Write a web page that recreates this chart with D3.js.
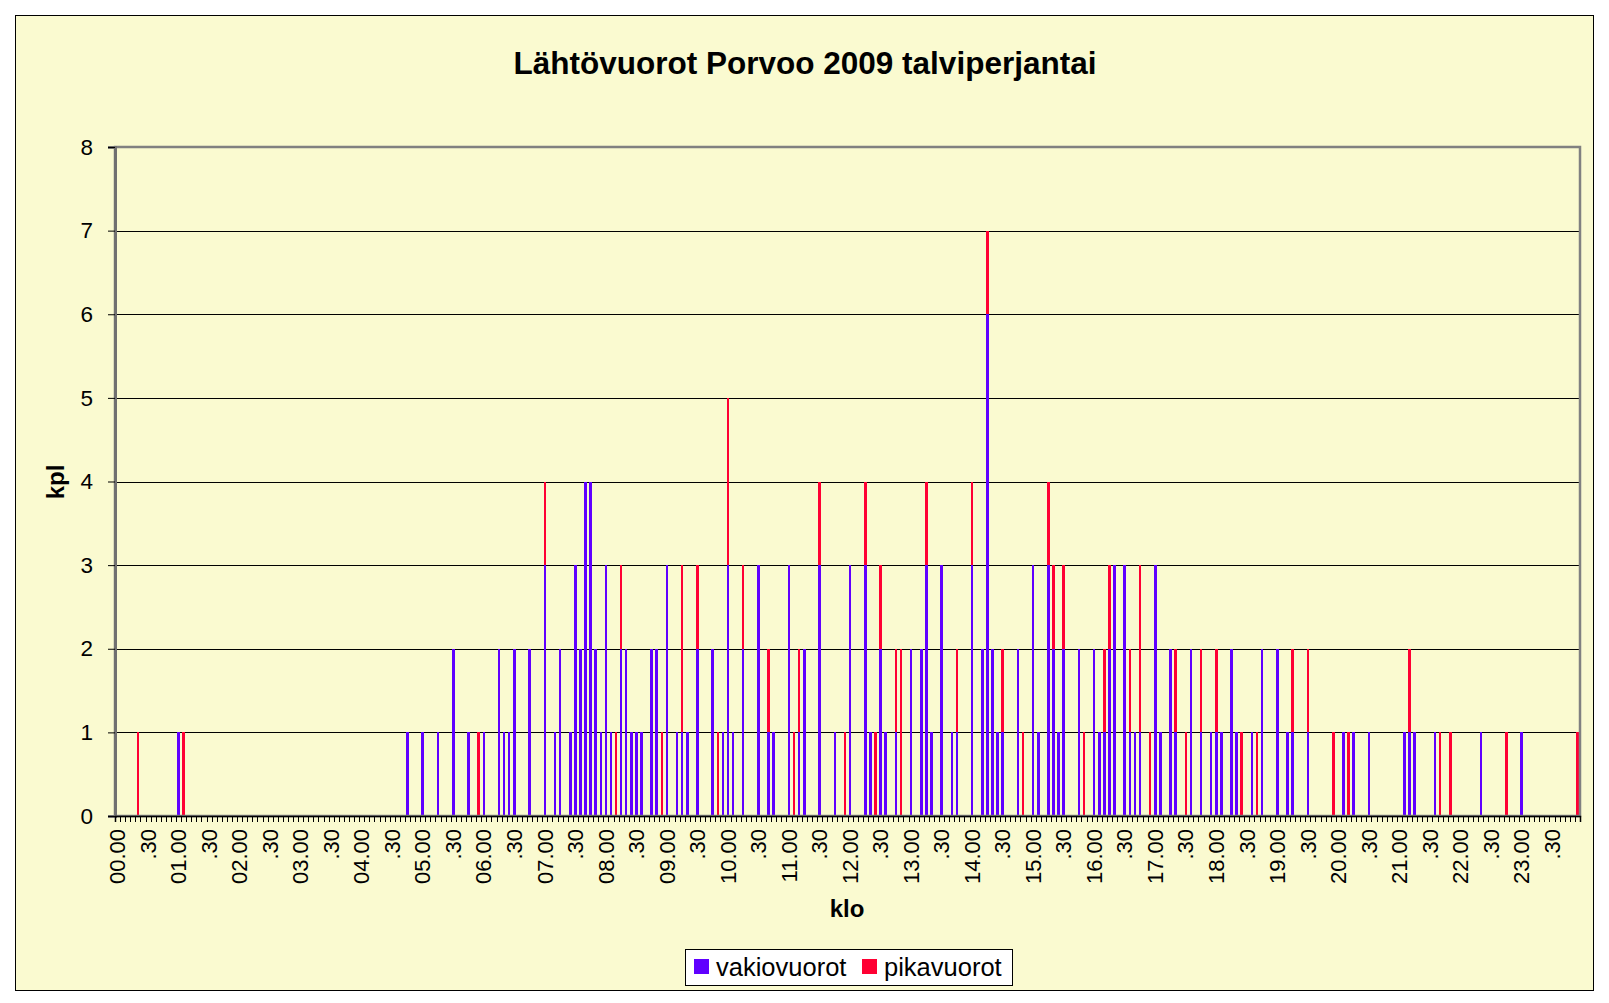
<!DOCTYPE html>
<html><head><meta charset="utf-8">
<script src="https://cdn.jsdelivr.net/npm/d3@7"></script>
<style>
body{margin:0;background:#fff}
svg{display:block}
text{font-family:"Liberation Sans",Arial,sans-serif}
</style>
</head><body>
<svg id="c" width="1609" height="1003"></svg>
<script>
// Departures per 5-minute slot, 12 slots per hour (00.00 ... 23.55)
const vakiovuorot = [
  0,0,0,0,0,0,0,0,0,0,0,0,   // 00
  1,0,0,0,0,0,0,0,0,0,0,0,   // 01
  0,0,0,0,0,0,0,0,0,0,0,0,   // 02
  0,0,0,0,0,0,0,0,0,0,0,0,   // 03
  0,0,0,0,0,0,0,0,0,1,0,0,   // 04
  1,0,0,1,0,0,2,0,0,1,0,0,   // 05
  1,0,0,2,1,1,2,0,0,2,0,0,   // 06
  3,0,1,2,0,1,3,2,4,4,2,1,   // 07
  3,1,0,2,2,1,1,1,0,2,2,0,   // 08
  3,0,1,1,1,0,2,0,0,2,0,1,   // 09
  3,1,0,2,0,0,3,0,1,1,0,0,   // 10
  3,0,1,2,0,0,3,0,0,1,0,0,   // 11
  3,0,0,3,1,0,2,1,0,1,0,0,   // 12
  2,0,2,3,1,0,3,0,1,1,0,0,   // 13
  3,0,2,6,2,1,1,0,0,2,0,0,   // 14
  3,1,0,3,2,1,2,0,0,2,0,0,   // 15
  2,1,1,2,3,0,3,1,1,1,0,0,   // 16
  3,1,0,2,1,0,0,2,0,1,0,1,   // 17
  1,1,0,2,1,0,0,1,0,2,0,0,   // 18
  2,0,1,1,0,0,1,0,0,0,0,0,   // 19
  0,1,0,1,0,0,1,0,0,0,0,0,   // 20
  0,1,1,1,0,0,0,1,0,0,0,0,   // 21
  0,0,0,0,1,0,0,0,0,0,0,0,   // 22
  1,0,0,0,0,0,0,0,0,0,0,0    // 23
];
const pikavuorot = [
  0,0,0,0,1,0,0,0,0,0,0,0,   // 00
  0,1,0,0,0,0,0,0,0,0,0,0,   // 01
  0,0,0,0,0,0,0,0,0,0,0,0,   // 02
  0,0,0,0,0,0,0,0,0,0,0,0,   // 03
  0,0,0,0,0,0,0,0,0,0,0,0,   // 04
  0,0,0,0,0,0,0,0,0,0,0,1,   // 05
  0,0,0,0,0,0,0,0,0,0,0,0,   // 06
  1,0,0,0,0,0,0,0,0,0,0,0,   // 07
  0,0,1,1,0,0,0,0,0,0,0,1,   // 08
  0,0,0,2,0,0,1,0,0,0,1,0,   // 09
  2,0,0,1,0,0,0,0,1,0,0,0,   // 10
  0,1,1,0,0,0,1,0,0,0,0,1,   // 11
  0,0,0,1,0,1,1,0,0,1,2,0,   // 12
  0,0,0,1,0,0,0,0,0,1,0,0,   // 13
  1,0,0,1,0,0,1,0,0,0,1,0,   // 14
  0,0,0,1,1,0,1,0,0,0,1,0,   // 15
  0,0,1,1,0,0,0,1,0,2,0,1,   // 16
  0,0,0,0,1,0,1,0,0,1,0,0,   // 17
  1,0,0,0,0,1,0,0,1,0,0,0,   // 18
  0,0,0,1,0,0,1,0,0,0,0,1,   // 19
  0,0,1,0,0,0,0,0,0,0,0,0,   // 20
  0,0,1,0,0,0,0,0,1,0,1,0,   // 21
  0,0,0,0,0,0,0,0,0,1,0,0,   // 22
  0,0,0,0,0,0,0,0,0,0,0,1    // 23
];
const hours = ["00","01","02","03","04","05","06","07","08","09","10","11",
               "12","13","14","15","16","17","18","19","20","21","22","23"];
const minutes = ["00","05","10","15","20","25","30","35","40","45","50","55"];
const categories = [];
hours.forEach(h => minutes.forEach(m => categories.push(h + "." + m)));
const tickLabels = ["00.00",".30","01.00",".30","02.00",".30","03.00",".30","04.00",".30",
  "05.00",".30","06.00",".30","07.00",".30","08.00",".30","09.00",".30","10.00",".30",
  "11.00",".30","12.00",".30","13.00",".30","14.00",".30","15.00",".30","16.00",".30",
  "17.00",".30","18.00",".30","19.00",".30","20.00",".30","21.00",".30","22.00",".30",
  "23.00",".30"];
const yTicks = [0,1,2,3,4,5,6,7,8];
const seriesNames = ["vakiovuorot","pikavuorot"];
const seriesColors = ["#6000FF","#FF0033"];

const svg = d3.select("#c");
const L = 115, R = 1580, T = 147, B = 816;

svg.append("rect").attr("x",15.5).attr("y",15.5).attr("width",1578).attr("height",975)
  .attr("fill","#FAFAD0").attr("stroke","#000").attr("stroke-width",1);

svg.append("text").attr("x",805).attr("y",74).attr("text-anchor","middle")
  .attr("font-size",31.5).attr("font-weight","bold").text("Lähtövuorot Porvoo 2009 talviperjantai");

const x = d3.scaleBand().domain(categories).range([L,R]).paddingInner(0.5).paddingOuter(0.25);
const xEdge = d3.scaleLinear().domain([0,categories.length]).range([L,R]);
const y = d3.scaleLinear().domain([0,8]).range([B,T]);

// gridlines
svg.append("g").attr("transform",`translate(${L},0)`)
  .call(d3.axisLeft(y).tickValues(yTicks.slice(1,-1)).tickSize(-(R-L)).tickFormat(""))
  .call(g => g.select(".domain").remove())
  .call(g => g.selectAll("line").attr("stroke","#000").attr("stroke-width",1).attr("shape-rendering","crispEdges"));

// stacked bars
const rows = categories.map((c,i) => ({cat:c, vakiovuorot:vakiovuorot[i], pikavuorot:pikavuorot[i]}));
const stacked = d3.stack().keys(seriesNames)(rows);
svg.append("g").selectAll("g").data(stacked).join("g")
  .attr("fill",(d,i) => seriesColors[i])
  .selectAll("rect").data(d => d.filter(p => p[1] > p[0])).join("rect")
  .attr("x", d => x(d.data.cat))
  .attr("width", x.bandwidth())
  .attr("y", d => y(d[1]))
  .attr("height", d => y(d[0]) - y(d[1]))
  .attr("shape-rendering","crispEdges");

// plot border
svg.append("rect").attr("x",L).attr("y",T).attr("width",R-L).attr("height",B-T)
  .attr("fill","none").attr("stroke","#808080").attr("stroke-width",2.5);

// y axis
svg.append("g").attr("transform",`translate(${L},0)`)
  .call(d3.axisLeft(y).tickValues(yTicks).tickSize(7).tickPadding(15).tickFormat(d3.format("d")))
  .call(g => g.select(".domain").attr("stroke","#707070").attr("stroke-width",3))
  .call(g => g.selectAll("line").attr("stroke","#000"))
  .call(g => g.selectAll("text").attr("font-size",22.5).attr("fill","#000")
    .style("font-family",'"Liberation Sans",Arial,sans-serif'));

// x tick marks at category boundaries
svg.append("g").attr("transform",`translate(0,${B})`)
  .call(d3.axisBottom(xEdge).tickValues(d3.range(0,categories.length+1)).tickSize(6).tickFormat(""))
  .call(g => g.select(".domain").attr("stroke","#000").attr("stroke-width",1.5))
  .call(g => g.selectAll("line").attr("stroke","#000").attr("shape-rendering","crispEdges"));

// x labels
svg.append("g").attr("transform",`translate(0,${B})`)
  .call(d3.axisBottom(x).tickValues(categories.filter((c,i) => i % 6 === 0))
    .tickSize(0).tickFormat(c => tickLabels[categories.indexOf(c) / 6]))
  .call(g => g.select(".domain").remove())
  .call(g => g.selectAll("text")
    .attr("transform","rotate(-90)").attr("text-anchor","end")
    .attr("x",-13).attr("y",0).attr("dy","0.35em")
    .attr("font-size",22).attr("fill","#000")
    .style("font-family",'"Liberation Sans",Arial,sans-serif'));

// axis titles
svg.append("text").attr("x",847).attr("y",917).attr("text-anchor","middle")
  .attr("font-size",24).attr("font-weight","bold").text("klo");
svg.append("text").attr("transform","translate(64,482) rotate(-90)").attr("text-anchor","middle")
  .attr("font-size",24).attr("font-weight","bold").text("kpl");

// legend
const lg = svg.append("g");
lg.append("rect").attr("x",685.5).attr("y",949.5).attr("width",327).attr("height",36)
  .attr("fill","#fff").attr("stroke","#000").attr("stroke-width",1);
const legendX = [694, 862];
seriesNames.forEach((n,i) => {
  lg.append("rect").attr("x",legendX[i]).attr("y",959).attr("width",15).attr("height",15)
    .attr("fill",seriesColors[i]);
  lg.append("text").attr("x",legendX[i]+22).attr("y",976).attr("font-size",25.5).text(n);
});
</script>
</body></html>
